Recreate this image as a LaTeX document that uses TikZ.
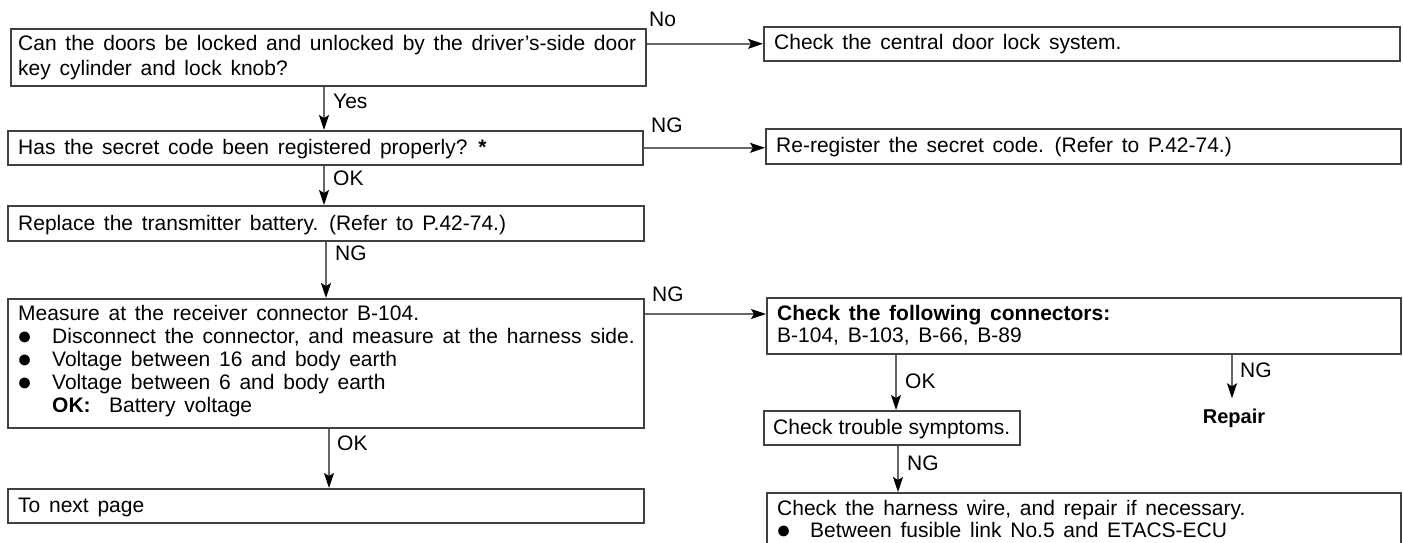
\documentclass[tikz,border=0pt]{standalone}
\usepackage{fontspec}
\setmainfont{Liberation Sans}
\usetikzlibrary{arrows.meta}
\newcommand{\bul}{{\fontsize{25}{25}\selectfont ●}}
\newcommand{\wordsp}[1]{\spaceskip=#1\fontdimen2\font\relax}
\newcommand{\fwide}{\fontsize{21}{23}\selectfont\wordsp{1.5}}
\newcommand{\ftight}{\fontsize{21}{23}\selectfont\wordsp{1.0}}
\begin{document}
\begin{tikzpicture}[x=1pt,y=-1pt,
  box/.style={draw=black!75, line width=1.6pt, inner sep=0pt, anchor=north west},
  txt/.style={anchor=base west, inner sep=0pt, font=\fwide},
  tight/.style={anchor=base west, inner sep=0pt, font=\ftight},
  lbl/.style={anchor=base west, inner sep=0pt, font=\fontsize{21}{23}\selectfont},
  arr/.style={draw=black!60, line width=1.5pt, -{Stealth[length=15pt,width=10pt,inset=3pt,color=black]}}
]
\useasboundingbox (0,0) rectangle (1403,543);

% boxes
\node[box, minimum width=635pt, minimum height=57pt] (b1) at (10,28) {};
\node[box, minimum width=636pt, minimum height=34pt] (cc) at (763,26) {};
\node[box, minimum width=635pt, minimum height=34pt] (b2) at (7,130) {};
\node[box, minimum width=635pt, minimum height=35pt] (rr) at (765,128) {};
\node[box, minimum width=636pt, minimum height=35pt] (b3) at (7,205) {};
\node[box, minimum width=636pt, minimum height=129pt] (b4) at (7,298) {};
\node[box, minimum width=634pt, minimum height=56pt] (b5) at (766,297) {};
\node[box, minimum width=256pt, minimum height=34pt] (ts) at (763,410) {};
\node[box, minimum width=636pt, minimum height=34pt] (tn) at (7,488) {};
\begin{scope}
\clip (0,0) rectangle (1403,543);
\node[box, minimum width=634pt, minimum height=90pt] (hw) at (766,492) {};
\end{scope}

% texts
\node[txt] (t1a) at (18,51) {Can the doors be locked and unlocked by the driver’s-side door};
\node[txt] (t1b) at (18,75) {key cylinder and lock knob?};
\node[txt] (tcc) at (774,50) {Check the central door lock system.};
\node[txt] (t2) at (18,154) {Has the secret code been registered properly? \textbf{*}};
\node[txt] (trr) at (776,152) {Re-register the secret code. (Refer to P.42-74.)};
\node[txt] (t3) at (18,230) {Replace the transmitter battery. (Refer to P.42-74.)};
\node[txt] (t4a) at (18,320) {Measure at the receiver connector B-104.};
\node[lbl] (t4b1) at (17,344) {\bul};
\node[txt] (t4b) at (52,343) {Disconnect the connector, and measure at the harness side.};
\node[lbl] (t4c1) at (17,367) {\bul};
\node[txt] (t4c) at (52,366) {Voltage between 16 and body earth};
\node[lbl] (t4d1) at (17,390) {\bul};
\node[txt] (t4d) at (52,389) {Voltage between 6 and body earth};
\node[lbl] (t4e1) at (52,412) {\textbf{OK:}};
\node[txt] (t4e) at (109,412) {Battery voltage};
\node[txt] (t5a) at (777,320) {\textbf{Check the following connectors:}};
\node[txt] (t5b) at (777,342) {B-104, B-103, B-66, B-89};
\node[tight] (tts) at (773,434) {Check trouble symptoms.};
\node[txt] (thw) at (777,515) {Check the harness wire, and repair if necessary.};
\node[lbl] (thw1) at (776,538) {\bul};
\node[txt] (thwb) at (810,537) {Between fusible link No.5 and ETACS-ECU};
\node[txt] (ttn) at (18,512) {To next page};
\node[anchor=base, inner xsep=0pt, inner ysep=10pt, font=\fontsize{20}{23}\selectfont\bfseries] (rep) at (1234,423) {Repair};

% branch labels
\node[lbl] (lNo) at (649,27) {No};
\node[lbl] (lNG2) at (651,132) {NG};
\node[lbl] (lNG4) at (652,301) {NG};
\node[lbl] (lYes) at (333,108) {Yes};
\node[lbl] (lOK2) at (333,185) {OK};
\node[lbl] (lNG3) at (335,260) {NG};
\node[lbl] (lOK4) at (337,450) {OK};
\node[lbl] (lOK5) at (905,388) {OK};
\node[lbl] (lNG5) at (1240,377) {NG};
\node[lbl] (lNGt) at (907,470) {NG};

% helper coordinates
\coordinate (k4) at (0,314);
\coordinate (xa) at (324,0);
\coordinate (xb) at (326,0);
\coordinate (xc) at (329,0);
\coordinate (xd) at (896,0);
\coordinate (xe) at (898,0);
\coordinate (xr) at (1232,0);

% connectors
\draw[arr] (b1.east |- cc.west) -- (cc.west);
\draw[arr] (b2.east) -- (b2.east -| rr.west);
\draw[arr] (b4.east |- k4) -- (b5.west |- k4);
\draw[arr] (b1.south -| xa) -- (b2.north -| xa);
\draw[arr] (b2.south -| xa) -- (b3.north -| xa);
\draw[arr] (b3.south -| xb) -- (b4.north -| xb);
\draw[arr] (b4.south -| xc) -- (tn.north -| xc);
\draw[arr] (b5.south -| xd) -- (ts.north -| xd);
\draw[arr] (ts.south -| xe) -- (hw.north -| xe);
\draw[arr] (b5.south -| xr) -- (rep.north -| xr);
\end{tikzpicture}
\end{document}
